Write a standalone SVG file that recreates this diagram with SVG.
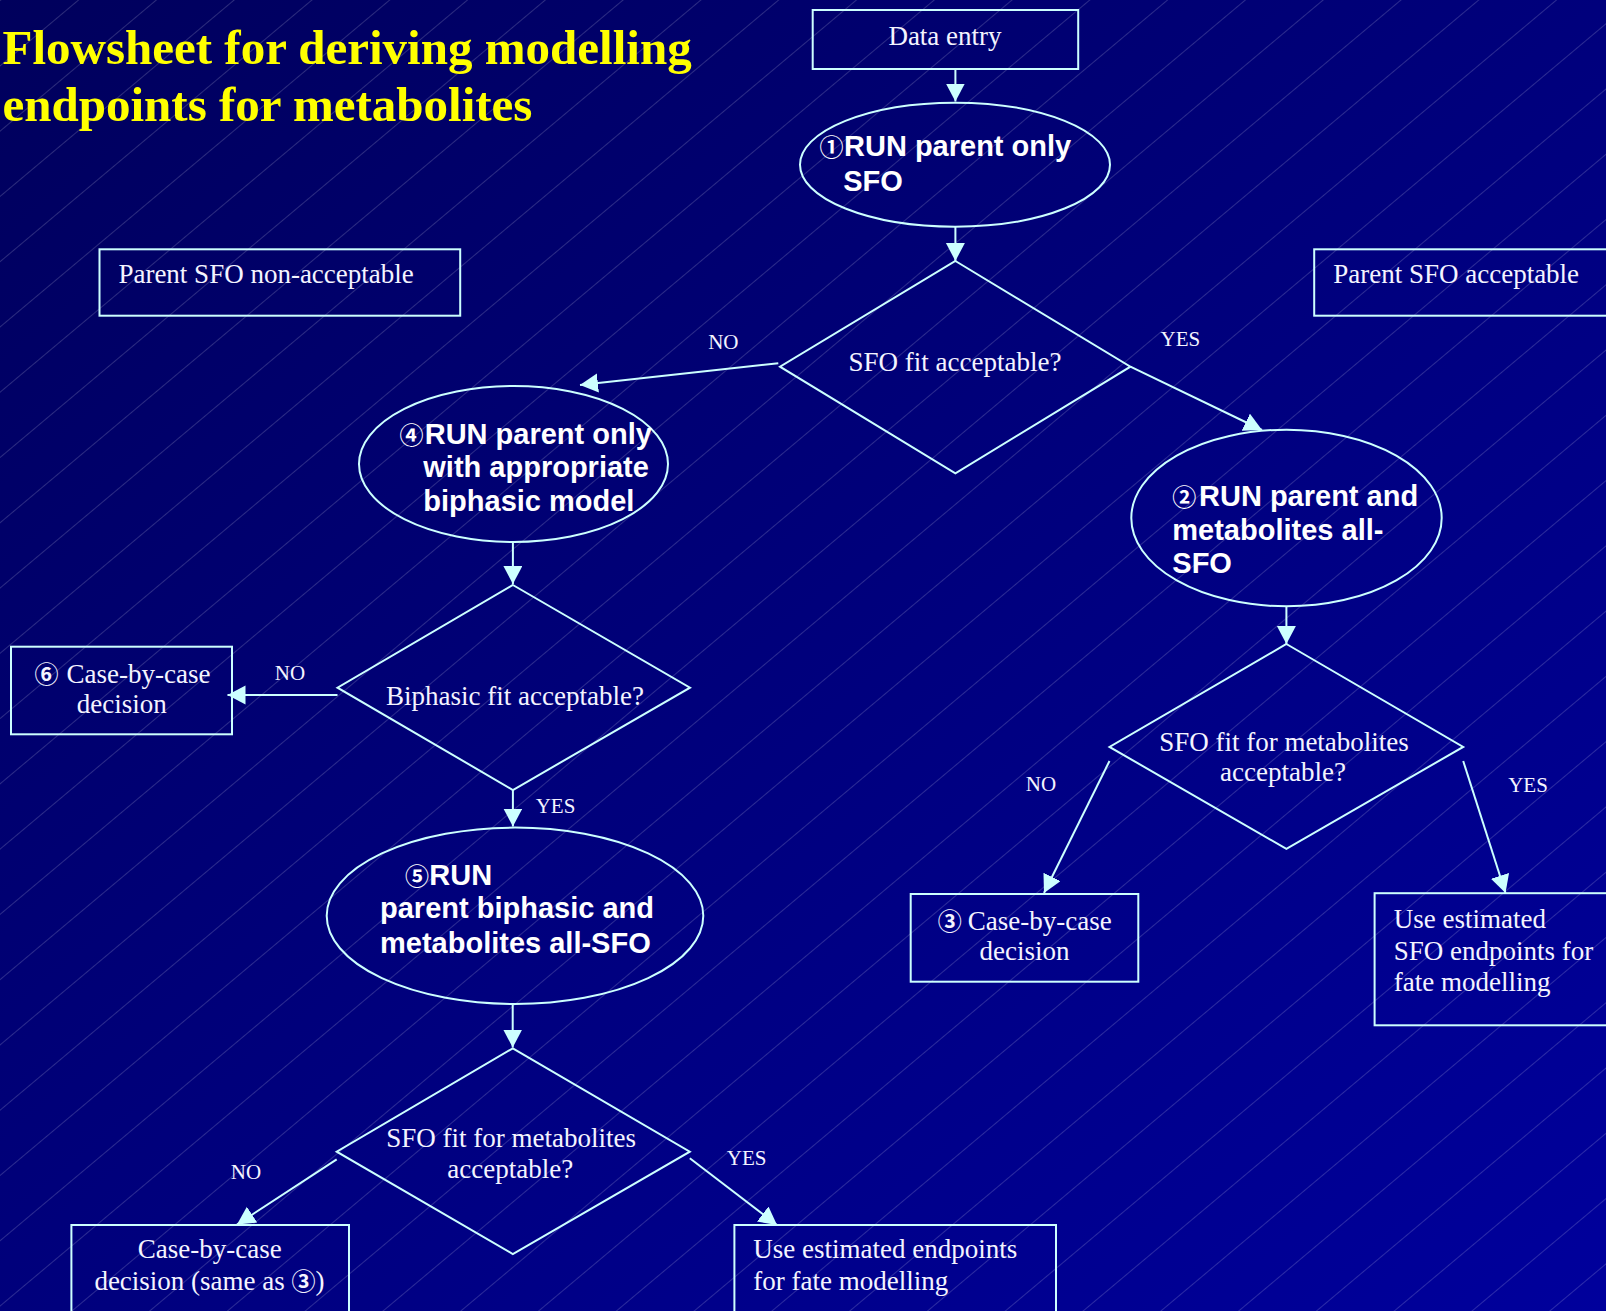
<svg xmlns="http://www.w3.org/2000/svg" width="1606" height="1311" viewBox="0 0 1606 1311">
<defs>
<linearGradient id="bg" x1="0" y1="0" x2="1" y2="1">
<stop offset="0" stop-color="#00005c"/>
<stop offset="1" stop-color="#00009c"/>
</linearGradient>
<pattern id="tex" patternUnits="userSpaceOnUse" width="50" height="10" patternTransform="rotate(50)">
<line x1="0.5" y1="0" x2="0.5" y2="10" stroke="#ffffff" stroke-opacity="0.22" stroke-width="0.8"/>
</pattern>
<marker id="ah" markerUnits="userSpaceOnUse" markerWidth="20" markerHeight="20" refX="18" refY="9.5" orient="auto">
<path d="M0,0 L18,9.5 L0,19 z" fill="#ccffff"/>
</marker>
<style>
.shape{fill:none;stroke:#ccffff;stroke-width:2}
.conn{fill:none;stroke:#ccffff;stroke-width:2;marker-end:url(#ah)}
.t{font-family:"Liberation Serif","Noto Sans CJK JP",serif;font-size:27px;fill:#f4f4ff}
.lbl{font-family:"Liberation Serif",serif;font-size:21px;fill:#f4f4ff;text-anchor:middle}
.b{font-family:"Liberation Sans","Noto Sans CJK JP",sans-serif;font-size:29px;font-weight:bold;fill:#ffffff}
.n{font-family:"Noto Sans CJK JP",sans-serif;font-size:24px;font-weight:bold}
.c{text-anchor:middle}
.title{font-family:"Liberation Serif",serif;font-size:49px;font-weight:bold;fill:#ffff00}
</style>
</defs>
<rect x="0" y="0" width="1606" height="1311" fill="url(#bg)"/>
<rect x="0" y="0" width="1606" height="1311" fill="url(#tex)"/>

<g id="title">
<text class="title" x="2.5" y="63.5">Flowsheet for deriving modelling</text>
<text class="title" x="2.5" y="120.5">endpoints for metabolites</text>
</g>

<g id="connectors">
<line class="conn" x1="955.4" y1="69" x2="955.4" y2="101.5"/>
<line class="conn" x1="955.4" y1="226.7" x2="955.4" y2="261"/>
<line class="conn" x1="778.3" y1="363.3" x2="580" y2="385"/>
<line class="conn" x1="1130.4" y1="366.7" x2="1262" y2="430"/>
<line class="conn" x1="512.9" y1="541" x2="512.9" y2="584"/>
<line class="conn" x1="337.5" y1="695" x2="227.5" y2="695"/>
<line class="conn" x1="512.9" y1="790" x2="512.9" y2="826.5"/>
<line class="conn" x1="1286.4" y1="606.5" x2="1286.4" y2="644"/>
<line class="conn" x1="1109.5" y1="761" x2="1044" y2="893"/>
<line class="conn" x1="1463.2" y1="761" x2="1505.5" y2="893"/>
<line class="conn" x1="512.7" y1="1004" x2="512.7" y2="1047.5"/>
<line class="conn" x1="336.7" y1="1159.3" x2="237" y2="1224.5"/>
<line class="conn" x1="689.8" y1="1158.3" x2="777" y2="1225"/>
<text class="lbl" x="723.3" y="349.3">NO</text>
<text class="lbl" x="1180.4" y="345.7">YES</text>
<text class="lbl" x="290" y="680">NO</text>
<text class="lbl" x="555.5" y="813">YES</text>
<text class="lbl" x="1041" y="790.7">NO</text>
<text class="lbl" x="1528" y="791.6">YES</text>
<text class="lbl" x="246" y="1179.3">NO</text>
<text class="lbl" x="746.7" y="1164.5">YES</text>
</g>

<g id="data-entry">
<rect class="shape" x="812.7" y="10" width="265.5" height="59"/>
<text class="t c" x="945" y="45">Data entry</text>
</g>

<g id="run1">
<ellipse class="shape" cx="955" cy="164.7" rx="155" ry="62"/>
<text class="b" y="156"><tspan class="n" x="819.5">①</tspan><tspan x="844">RUN parent only</tspan></text>
<text class="b" x="843.2" y="190.7">SFO</text>
</g>

<g id="parent-non-acceptable">
<rect class="shape" x="99.5" y="249.3" width="360.7" height="66.4"/>
<text class="t" x="118.4" y="283.3">Parent SFO non-acceptable</text>
</g>

<g id="parent-acceptable">
<rect class="shape" x="1314.2" y="249.3" width="320" height="66.4"/>
<text class="t" x="1333.2" y="283.3">Parent SFO acceptable</text>
</g>

<g id="decision1">
<polygon class="shape" points="955.4,261 1130.4,366.7 955.4,473.3 780,366.7"/>
<text class="t c" x="955" y="370.7">SFO fit acceptable?</text>
</g>

<g id="run4">
<ellipse class="shape" cx="513.5" cy="464" rx="154.5" ry="78"/>
<text class="b" y="444"><tspan class="n" x="399.5">④</tspan><tspan x="424.7">RUN parent only</tspan></text>
<text class="b" x="423.3" y="477.3">with appropriate</text>
<text class="b" x="423.3" y="510.7">biphasic model</text>
</g>

<g id="run2">
<ellipse class="shape" cx="1286.5" cy="518" rx="155.2" ry="88.3"/>
<text class="b" y="506"><tspan class="n" x="1172.3">②</tspan><tspan x="1199">RUN parent and</tspan></text>
<text class="b" x="1172.3" y="539.7">metabolites all-</text>
<text class="b" x="1172.3" y="573.3">SFO</text>
</g>

<g id="decision2">
<polygon class="shape" points="512.9,585 690,687.7 512.9,790 337.5,687.7"/>
<text class="t c" x="515" y="705">Biphasic fit acceptable?</text>
</g>

<g id="case6">
<rect class="shape" x="11" y="646.7" width="221" height="87.6"/>
<text class="t" y="683.3"><tspan class="n" x="34.4">⑥</tspan><tspan x="66.6">Case-by-case</tspan></text>
<text class="t c" x="121.7" y="713.3">decision</text>
</g>

<g id="decision3">
<polygon class="shape" points="1286.4,644 1463.2,746.9 1286.4,848.9 1109.5,746.9"/>
<text class="t c" x="1284" y="750.8">SFO fit for metabolites</text>
<text class="t c" x="1283" y="780.9">acceptable?</text>
</g>

<g id="case3">
<rect class="shape" x="910.7" y="894" width="227.6" height="87.7"/>
<text class="t" y="930"><tspan class="n" x="937.7">③</tspan><tspan x="967.8">Case-by-case</tspan></text>
<text class="t c" x="1024.5" y="960">decision</text>
</g>

<g id="use-sfo">
<rect class="shape" x="1374.6" y="893.2" width="260" height="132.1"/>
<text class="t" x="1393.8" y="928">Use estimated</text>
<text class="t" x="1393.8" y="959.6">SFO endpoints for</text>
<text class="t" x="1393.8" y="991.2">fate modelling</text>
</g>

<g id="run5">
<ellipse class="shape" cx="515" cy="915.8" rx="188.3" ry="88.2"/>
<text class="b" y="885"><tspan class="n" x="405">⑤</tspan><tspan x="429.3">RUN</tspan></text>
<text class="b" x="380" y="918.3">parent biphasic and</text>
<text class="b" x="380" y="952.7">metabolites all-SFO</text>
</g>

<g id="decision4">
<polygon class="shape" points="512.8,1048.3 689.8,1151.7 512.8,1254 336.7,1151.7"/>
<text class="t c" x="511.2" y="1147.3">SFO fit for metabolites</text>
<text class="t c" x="510.2" y="1177.7">acceptable?</text>
</g>

<g id="case-same3">
<rect class="shape" x="71.4" y="1225" width="277.6" height="110"/>
<text class="t" x="94.4" y="1258.3" dx="0"><tspan x="209.7" text-anchor="middle">Case-by-case</tspan></text>
<text class="t" y="1290"><tspan x="94.4">decision (same as </tspan><tspan class="n">③</tspan><tspan>)</tspan></text>
</g>

<g id="use-endpoints">
<rect class="shape" x="734.4" y="1225" width="321.6" height="110"/>
<text class="t" x="753.3" y="1258.3">Use estimated endpoints</text>
<text class="t" x="753.3" y="1290">for fate modelling</text>
</g>
</svg>
